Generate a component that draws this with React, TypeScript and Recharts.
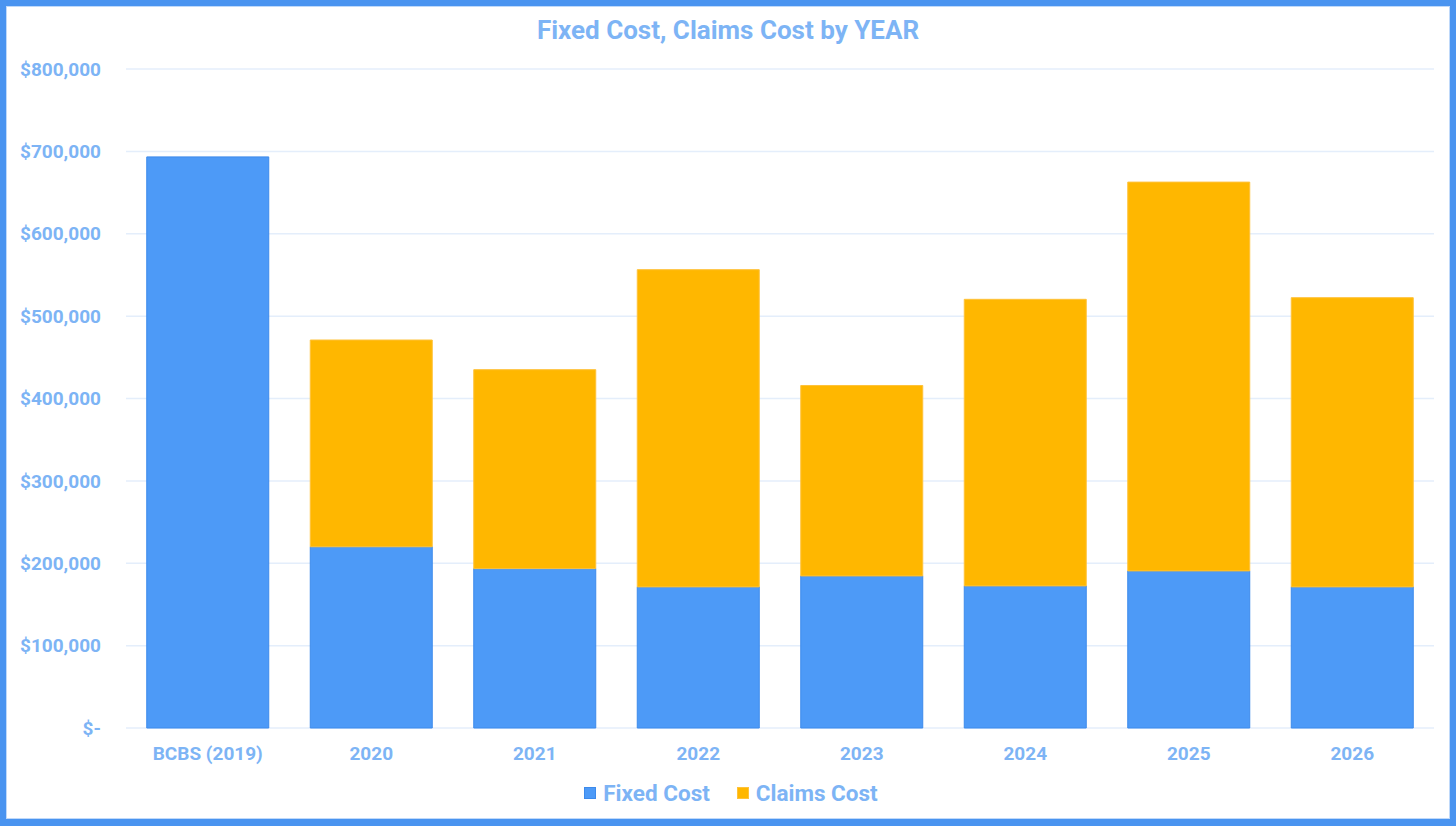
import { BarChart, Bar, XAxis, YAxis, CartesianGrid, Legend } from 'recharts'

const years = ['BCBS (2019)', '2020', '2021', '2022', '2023', '2024', '2025', '2026']
const fixedCost = [693300, 220000, 193500, 171300, 184600, 172500, 190700, 171300]
const claimsCost = [0, 251000, 241500, 385100, 231200, 347900, 472000, 351100]
const yTicks = [0, 100000, 200000, 300000, 400000, 500000, 600000, 700000, 800000]

const series = [
  { key: 'fixed', label: 'Fixed Cost', fill: '#4D9AF7', stroke: '#3D8AEB' },
  { key: 'claims', label: 'Claims Cost', fill: '#FFB700', stroke: '#FFC23A' },
]

const TEXT = '#7DB4F5'
const FONT = 'Roboto, "Noto Sans", sans-serif'

const data = years.map((y, i) => ({
  year: y,
  fixed: fixedCost[i],
  claims: claimsCost[i] || null,
}))

function fmtMoney(v: number): string {
  if (v === 0) return '$-'
  return '$' + v.toLocaleString('en-US')
}

function LegendContent() {
  return (
    <div style={{ display: 'flex', justifyContent: 'center', gap: 27, paddingLeft: 22, fontFamily: FONT, fontWeight: 700, fontSize: 22.5, color: TEXT }}>
      {series.map(s => (
        <div key={s.key} style={{ display: 'flex', alignItems: 'center', gap: 7 }}>
          <span style={{ display: 'inline-block', width: 12, height: 12, background: s.fill, border: `1px solid ${s.stroke}`, boxSizing: 'border-box' }} />
          <span>{s.label}</span>
        </div>
      ))}
    </div>
  )
}

export default function App() {
  return (
    <div
      style={{
        position: 'absolute', left: 0, top: 0, width: 1456, height: 826,
        boxSizing: 'border-box', border: '6px solid #4A94F0', borderBottomWidth: 7,
        boxShadow: 'inset 0 0 0 1px #BFD9FA', background: '#fff', fontFamily: FONT,
      }}
    >
      <div
        style={{
          position: 'absolute', left: 0, right: 0, top: 9, textAlign: 'center',
          fontSize: 26, fontWeight: 700, color: TEXT,
        }}
      >
        Fixed Cost, Claims Cost by YEAR
      </div>
      <BarChart
        width={1444}
        height={813}
        data={data}
        margin={{ top: 63, right: 16, left: 0, bottom: 0 }}
        barCategoryGap="12.7%"
      >
        <CartesianGrid vertical={false} stroke="#E4EEFB" strokeWidth={1.5} />
        <XAxis
          dataKey="year"
          axisLine={false}
          tickLine={false}
          tickSize={0}
          tickMargin={19}
          height={65}
          interval={0}
          tick={{ fontSize: 19, fontWeight: 700, fill: TEXT, fontFamily: FONT }}
        />
        <YAxis
          width={120}
          domain={[0, 800000]}
          ticks={yTicks}
          axisLine={false}
          tickLine={false}
          tickSize={0}
          tickMargin={25}
          tickFormatter={v => fmtMoney(v as number)}
          tick={{ fontSize: 19, fontWeight: 700, fill: TEXT, fontFamily: FONT }}
        />
        <Legend verticalAlign="bottom" content={<LegendContent />} wrapperStyle={{ bottom: 13 }} />
        {series.map(s => (
          <Bar
            key={s.key}
            dataKey={s.key}
            name={s.label}
            stackId="cost"
            fill={s.fill}
            stroke={s.stroke}
            strokeWidth={1}
            isAnimationActive={false}
          />
        ))}
      </BarChart>
    </div>
  )
}
